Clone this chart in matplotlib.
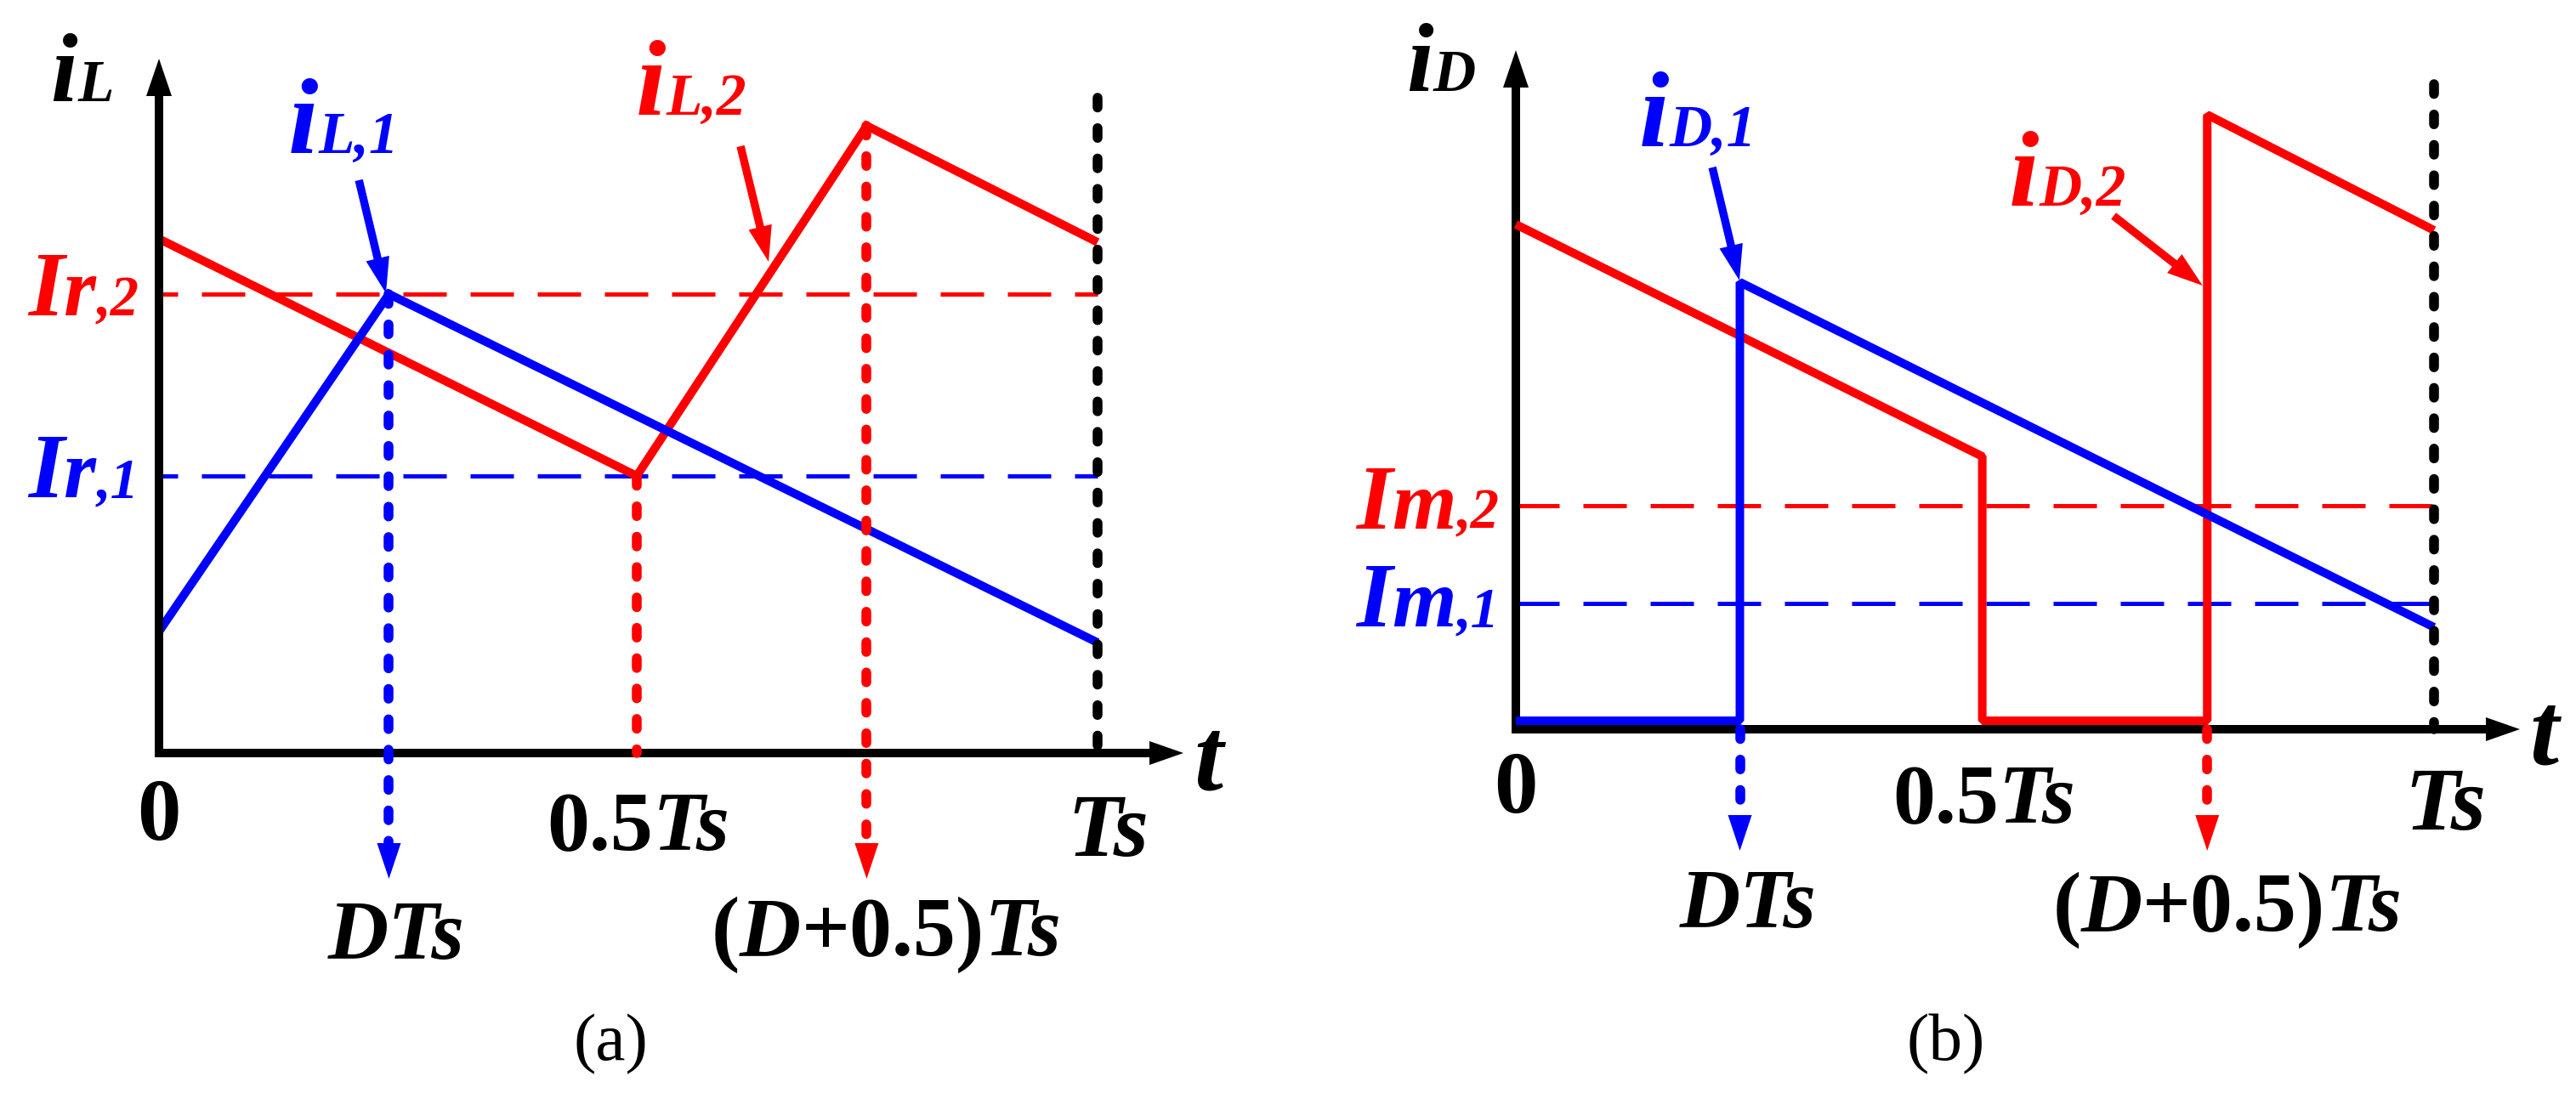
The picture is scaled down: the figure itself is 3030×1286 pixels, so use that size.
import numpy as np
import matplotlib
matplotlib.use('Agg')
import matplotlib.pyplot as plt
from matplotlib.patches import Polygon
from matplotlib.transforms import IdentityTransform

BLUE = '#0000ff'
RED = '#ff0000'
SERIF = 'Liberation Serif'

# ---- panel (a): inductor currents, time in units of Ts ----
t_a = [0.0, 0.245, 0.509, 0.754, 1.0]          # 0, DTs, 0.5Ts, (D+0.5)Ts, Ts
iL1_t = [t_a[0], t_a[1], t_a[4]]
iL1 = [1.43, 5.40, 1.30]
iL2_t = [t_a[0], t_a[2], t_a[3], t_a[4]]
iL2 = [6.05, 3.26, 7.38, 6.01]
Ir2 = 5.40
Ir1 = 3.26

# ---- panel (b): diode currents ----
t_b = [0.0, 0.244, 0.508, 0.753, 1.0]
iD1_t = [t_b[0], t_b[1], t_b[1], t_b[4]]
iD1 = [0.10, 0.10, 5.26, 1.20]
iD2_t = [t_b[0], t_b[2], t_b[2], t_b[3], t_b[3], t_b[4]]
iD2 = [5.94, 3.21, 0.10, 0.10, 7.23, 5.87]
Im2 = 2.63
Im1 = 1.48

# rich labels: (text, size, style)
lab_zero = [('0', 74, 'b')]
lab_half = [('0.5', 72, 'b'), ('Ts', 72, 'bi')]
lab_Ts = [('Ts', 76, 'bi')]
lab_DTs = [('DTs', 71, 'bi')]
lab_D05 = [('(', 72, 'b'), ('D', 72, 'bi'), ('+0.5)', 72, 'b'), ('Ts', 72, 'bi')]
lab_t = [('t', 88, 'bi')]

STYLES = {'b': dict(fontweight='bold', fontstyle='normal'),
          'bi': dict(fontweight='bold', fontstyle='italic'),
          'r': dict(fontweight='normal', fontstyle='normal')}

fig = plt.figure(figsize=(30.30, 12.86), dpi=100)
ax_a = fig.add_axes([0, 0, 1500 / 3030, 1])
ax_b = fig.add_axes([1500 / 3030, 0, 1530 / 3030, 1])
ax_a.set_xlim(-187 / 1104, 1313 / 1104)
ax_a.set_ylim(-4.0, 8.86)
ax_b.set_xlim(-283 / 1080, 1247 / 1080)
ax_b.set_ylim(-4.28, 8.58)
for ax in (ax_a, ax_b):
    ax.axis('off')
renderer = fig.canvas.get_renderer()


def head(ax, frm, tip, color, length=42, width=28, z=5):
    a = ax.transData.transform(frm)
    b = ax.transData.transform(tip)
    u = (b - a) / np.hypot(*(b - a))
    n = np.array([-u[1], u[0]])
    base = b - u * length
    tri = np.array([b, base + n * width / 2, base - n * width / 2])
    ax.add_patch(Polygon(ax.transData.inverted().transform(tri), closed=True,
                         fc=color, ec='none', zorder=z))
    return ax.transData.inverted().transform(base + u * 3)


def arrow(ax, frm, tip, color, lw, z=5, **kw):
    end = head(ax, frm, tip, color, z=z)
    ax.plot([frm[0], end[0]], [frm[1], end[1]], color=color, lw=lw,
            solid_capstyle='butt', zorder=z, **kw)


def dotted(ax, x, y0, y1, color, tip=False):
    kw = dict(color=color, lw=8.3, dashes=(1.0, 2.1), dash_capstyle='round', zorder=6)
    if tip:
        end = head(ax, (x, y0), (x, y1), color, z=6)
        ax.plot([x, x], [y0, end[1]], **kw)
    else:
        ax.plot([x, x], [y0, y1], **kw)


def rich(ax, x, y, pieces, color='k', ha='center'):
    x0, y0 = ax.transData.transform((x, y))
    texts, widths = [], []
    for s, size, st in pieces:
        t = ax.text(0, 0, s, transform=IdentityTransform(), family=SERIF,
                    fontsize=size, color=color, va='baseline', ha='left', **STYLES[st])
        texts.append(t)
        widths.append(t.get_window_extent(renderer).width)
    total = sum(widths)
    start = x0 - {'left': 0, 'center': total / 2, 'right': total}[ha]
    for t, w in zip(texts, widths):
        t.set_position((start, y0))
        start += w


def axes_frame(ax, xtip, ytip):
    ye = head(ax, (0, 0), (0, ytip), 'k', length=44, width=30)
    xe = head(ax, (0, 0), (xtip, 0), 'k', length=40, width=28)
    ax.plot([0, 0, xe[0]], [ye[1], 0, 0], color='k', lw=7.2,
            solid_joinstyle='miter', solid_capstyle='butt', zorder=4)


# ================= panel (a) =================
ax = ax_a
axes_frame(ax, 1.0915, 8.17)
ax.plot([0, 1], [Ir2, Ir2], color=RED, lw=3.6, linestyle=(5.8, (10.2, 5.6)), zorder=2)
ax.plot([0, 1], [Ir1, Ir1], color=BLUE, lw=3.6, linestyle=(5.8, (10.2, 5.6)), zorder=2)
ax.plot(iL2_t, iL2, color=RED, lw=7.2, solid_joinstyle='miter', solid_capstyle='butt', zorder=3)
ax.plot(iL1_t, iL1, color=BLUE, lw=7.2, solid_joinstyle='miter', solid_capstyle='butt', zorder=3)

dotted(ax, t_a[1], Ir2, -1.48, BLUE, tip=True)
dotted(ax, t_a[2], Ir1, 0, RED)
dotted(ax, t_a[3], iL2[2], -1.48, RED, tip=True)
dotted(ax, t_a[4], 7.71, 0, 'k')

arrow(ax, (0.213, 6.74), (0.2418, 5.41), BLUE, 6.8)
arrow(ax, (0.6196, 7.14), (0.6495, 5.78), RED, 6.8)

rich(ax, -0.082, 7.67, [('i', 82, 'bi'), ('L', 50, 'bi')])
rich(ax, 0.1966, 7.06, [('i', 92, 'bi'), ('L,1', 50, 'bi')], color=BLUE)
rich(ax, 0.567, 7.51, [('i', 92, 'bi'), ('L,2', 50, 'bi')], color=RED)
rich(ax, -0.0217, Ir2 - 0.25, [('I', 78, 'bi'), ('r', 70, 'bi'), (',2', 48, 'bi')],
     color=RED, ha='right')
rich(ax, -0.0217, Ir1 - 0.25, [('I', 78, 'bi'), ('r', 70, 'bi'), (',1', 48, 'bi')],
     color=BLUE, ha='right')

rich(ax, 0.0, -1.02, lab_zero)
rich(ax, 0.511, -1.14, lab_half)
rich(ax, 1.011, -1.21, lab_Ts)
rich(ax, 1.118, -0.42, lab_t)
rich(ax, 0.2527, -2.42, lab_DTs)
rich(ax, 0.775, -2.38, lab_D05)
rich(ax, 0.481, -3.61, [('(a)', 57, 'r')])

# ================= panel (b) =================
ax = ax_b
axes_frame(ax, 1.0935, 7.99)
ax.plot([0, 1], [Im2, Im2], color=RED, lw=3.6, dashes=(10.2, 5.6), zorder=2)
ax.plot([0, 1], [Im1, Im1], color=BLUE, lw=3.6, dashes=(10.2, 5.6), zorder=2)
ax.plot(iD2_t, iD2, color=RED, lw=7.2, solid_joinstyle='bevel', solid_capstyle='butt', zorder=5)
ax.plot(iD1_t, iD1, color=BLUE, lw=7.2, solid_joinstyle='bevel', solid_capstyle='butt', zorder=5)

dotted(ax, t_b[1], 0, -1.43, BLUE, tip=True)
dotted(ax, t_b[3], 0, -1.43, RED, tip=True)
dotted(ax, t_b[4], 7.59, 0, 'k')

arrow(ax, (0.214, 6.61), (0.2435, 5.28), BLUE, 6.8)
arrow(ax, (0.651, 6.04), (0.748, 5.22), RED, 6.8)

rich(ax, -0.0815, 7.51, [('i', 82, 'bi'), ('D', 50, 'bi')])
rich(ax, 0.198, 6.86, [('i', 92, 'bi'), ('D,1', 50, 'bi')], color=BLUE)
rich(ax, 0.601, 6.16, [('i', 92, 'bi'), ('D,2', 50, 'bi')], color=RED)
rich(ax, -0.0185, Im2 - 0.27, [('I', 78, 'bi'), ('m', 70, 'bi'), (',2', 48, 'bi')],
     color=RED, ha='right')
rich(ax, -0.0185, Im1 - 0.27, [('I', 78, 'bi'), ('m', 70, 'bi'), (',1', 48, 'bi')],
     color=BLUE, ha='right')

rich(ax, 0.0, -0.98, lab_zero)
rich(ax, 0.510, -1.10, lab_half)
rich(ax, 1.012, -1.18, lab_Ts)
rich(ax, 1.12, -0.40, lab_t)
rich(ax, 0.253, -2.33, lab_DTs)
rich(ax, 0.775, -2.37, lab_D05)
rich(ax, 0.468, -3.89, [('(b)', 57, 'r')])

fig.savefig('out.png', dpi=100, facecolor='white')
